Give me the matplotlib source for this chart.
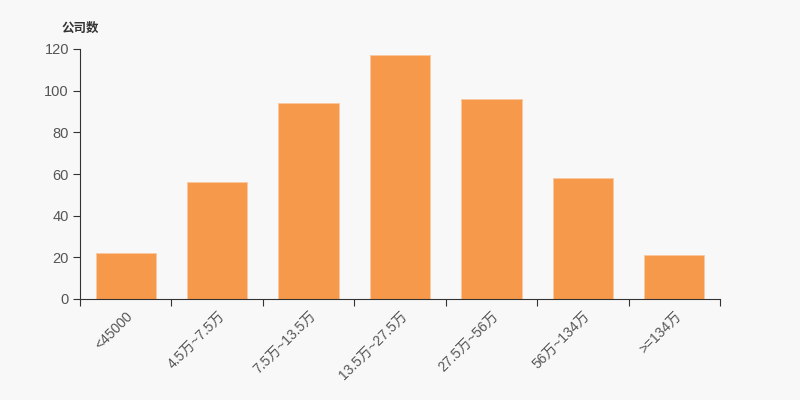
import numpy as np
import matplotlib.pyplot as plt

plt.rcParams['font.family'] = ['Liberation Sans', 'Noto Sans CJK SC', 'DejaVu Sans']

# Data
categories = ['<45000', '4.5万~7.5万', '7.5万~13.5万', '13.5万~27.5万',
              '27.5万~56万', '56万~134万', '>=134万']
counts = [22, 56, 94, 117, 96, 58, 21]

bg = '#f8f8f8'
bar_color = '#f7994a'
text_color = '#333333'
label_color = '#555555'

fig = plt.figure(figsize=(8, 4), dpi=100, facecolor=bg)
ax = fig.add_axes([0.1, 0.2525, 0.8, 0.625], facecolor=bg)

x = np.arange(len(categories))
ax.bar(x, counts, width=0.66, color=bar_color, edgecolor='#fbc8a0', linewidth=0.6)

ax.set_xlim(-0.5, len(categories) - 0.5)
ax.set_ylim(0, 120)
ax.set_yticks(np.arange(0, 121, 20))

# Boundary ticks as major, labels at centers as minor
ax.set_xticks(np.arange(-0.5, len(categories) + 0.5, 1))
ax.set_xticklabels([])
ax.set_xticks(x, minor=True)
ax.set_xticklabels(categories, minor=True, rotation=45, ha='right',
                   rotation_mode='anchor', fontsize=10, color=label_color)
ax.tick_params(axis='x', which='minor', length=0, pad=7)
ax.tick_params(axis='x', which='major', length=5, color=text_color)
ax.tick_params(axis='y', length=5, color=text_color, labelcolor=label_color,
               labelsize=10.5, pad=3)

for side in ['top', 'right']:
    ax.spines[side].set_visible(False)
for side in ['left', 'bottom']:
    ax.spines[side].set_color(text_color)

fig.text(0.0775, 0.927, '公司数', fontsize=9, fontweight='bold',
         color=text_color, ha='left', va='center')

fig.savefig('out.png', dpi=100, facecolor=bg)
